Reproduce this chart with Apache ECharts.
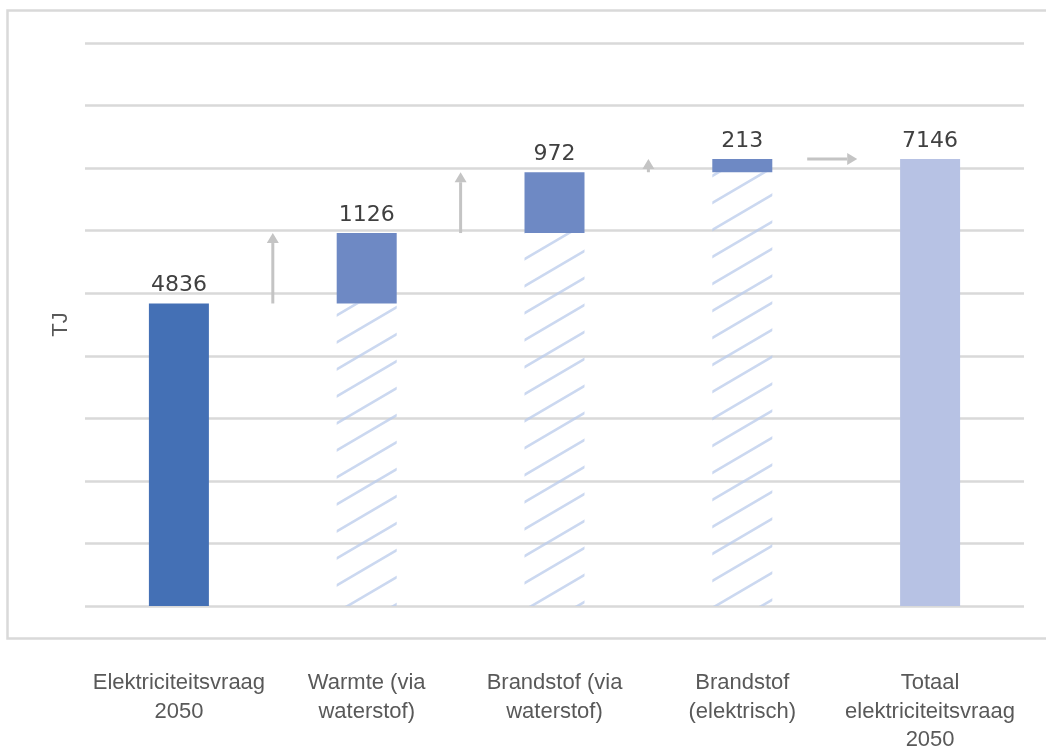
<!DOCTYPE html>
<html>
<head>
<meta charset="utf-8">
<script src="https://cdn.jsdelivr.net/npm/echarts@6/dist/echarts.min.js"></script>
<style>
html,body{margin:0;padding:0;background:#fff;}
#chart{width:1046px;height:747px;}
</style>
</head>
<body>
<div id="chart"></div>
<script>
// ---- data ----
const categories = ['Elektriciteitsvraag\n2050', 'Warmte (via\nwaterstof)', 'Brandstof (via\nwaterstof)', 'Brandstof\n(elektrisch)', 'Totaal\nelektriciteitsvraag\n2050'];
const increments = [4836, 1126, 972, 213, 7146];
const bases = ['-', 4836, 5962, 6934, '-'];
const valueLabels = ['4836', '1126', '972', '213', '7146'];
// vertical step arrows: [category index, from value, to value]
const stepArrows = [[0, 4836, 5962], [1, 5962, 6934], [2, 6934, 7147]];
// horizontal arrow: [category index, value]
const totalArrow = [[3, 7146]];
const yMin = 0, yMax = 9000, yInterval = 1000;

// ---- style ----
const barColors = ['#4470b5', '#6e89c4', '#6e89c4', '#6e89c4', '#b7c2e4'];
const arrowColor = '#c4c4c4';

function makeHatch() {
  const w = 46, h = 27;
  const c = document.createElement('canvas');
  c.width = w; c.height = h;
  const ctx = c.getContext('2d');
  ctx.strokeStyle = 'rgba(186,203,235,0.75)';
  ctx.lineWidth = 2.6;
  ctx.beginPath();
  for (let k = -1; k <= 1; k++) {
    ctx.moveTo(-w + k * w, 2 * h);
    ctx.lineTo(2 * w + k * w, -h);
  }
  ctx.stroke();
  return c;
}

const chart = echarts.init(document.getElementById('chart'), null, {renderer: 'canvas'});

function renderStep(params, api) {
  const i = api.value(0);
  const p0 = api.coord([i, api.value(1)]);
  const p1 = api.coord([i + 1, api.value(2)]);
  const x = (p0[0] + p1[0]) / 2;
  const yb = p0[1], yt = p1[1];
  const head = 10, hw = 6;
  const children = [];
  if (yb - yt > head) {
    children.push({type: 'line', shape: {x1: x, y1: yb, x2: x, y2: yt + head}, style: {stroke: arrowColor, lineWidth: 3}});
  }
  const ht = Math.min(head, yb - yt);
  children.push({type: 'polygon', shape: {points: [[x - hw, yt + ht], [x + hw, yt + ht], [x, yt]]}, style: {fill: arrowColor}});
  return {type: 'group', children: children};
}

function renderHoriz(params, api) {
  const i = api.value(0);
  const p0 = api.coord([i, api.value(1)]);
  const p1 = api.coord([i + 1, api.value(1)]);
  const xc = (p0[0] + p1[0]) / 2 - 4;
  const y = p0[1];
  const x1 = xc - 25, x2 = xc + 25;
  const head = 10, hw = 6;
  return {type: 'group', children: [
    {type: 'line', shape: {x1: x1, y1: y, x2: x2 - head, y2: y}, style: {stroke: arrowColor, lineWidth: 3}},
    {type: 'polygon', shape: {points: [[x2 - head, y - hw], [x2 - head, y + hw], [x2, y]]}, style: {fill: arrowColor}}
  ]};
}

const option = {
  backgroundColor: '#ffffff',
  animation: false,
  grid: {left: 85, right: 22, top: 43, bottom: 141, containLabel: false, outerBoundsMode: 'none'},
  graphic: [{
    type: 'rect', z: -10, silent: true,
    shape: {x: 7.5, y: 10.5, width: 1060, height: 628},
    style: {fill: 'none', stroke: '#d9d9d9', lineWidth: 2.5}
  }],
  xAxis: {
    type: 'category',
    data: categories,
    axisLine: {show: false},
    axisTick: {show: false},
    axisLabel: {
      interval: 0,
      margin: 63,
      fontFamily: 'Liberation Sans, Arial, sans-serif',
      fontSize: 22,
      lineHeight: 28.5,
      color: '#595959',
      align: 'center'
    }
  },
  yAxis: {
    type: 'value',
    min: yMin, max: yMax, interval: yInterval,
    axisLine: {show: false},
    axisTick: {show: false},
    axisLabel: {show: false},
    splitLine: {lineStyle: {color: '#d9d9d9', width: 2.5}},
    name: 'TJ',
    nameLocation: 'middle',
    nameRotate: 90,
    nameGap: 13,
    nameTextStyle: {fontFamily: 'Liberation Sans, Arial, sans-serif', fontSize: 22, color: '#595959'}
  },
  series: [
    {
      type: 'bar', stack: 'w', barWidth: 60,
      data: bases,
      itemStyle: {color: {image: makeHatch(), repeat: 'repeat'}},
      silent: true
    },
    {
      type: 'bar', stack: 'w', barWidth: 60,
      data: increments.map((v, i) => ({value: v, itemStyle: {color: barColors[i]}})),
      label: {
        show: true, position: 'top', distance: 7,
        formatter: p => valueLabels[p.dataIndex],
        fontFamily: 'DejaVu Sans, sans-serif',
        fontSize: 22,
        color: '#404040'
      }
    },
    {
      type: 'custom', renderItem: renderStep, data: stepArrows,
      encode: {x: 0, y: [1, 2]}, silent: true, z: 5
    },
    {
      type: 'custom', renderItem: renderHoriz, data: totalArrow,
      encode: {x: 0, y: 1}, silent: true, z: 5
    }
  ]
};
chart.setOption(option);
</script>
</body>
</html>
